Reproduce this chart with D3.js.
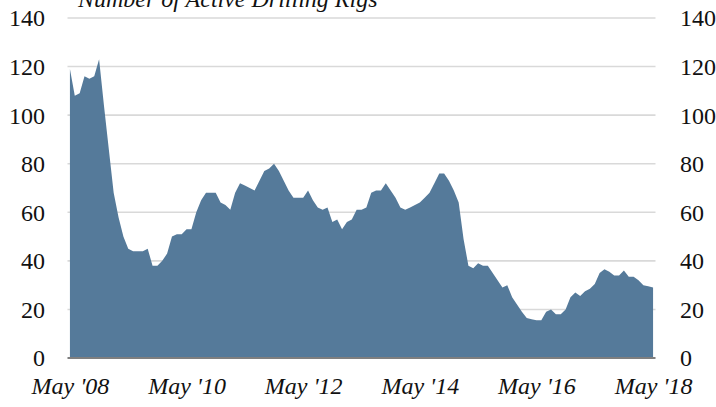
<!DOCTYPE html>
<html>
<head>
<meta charset="utf-8">
<script src="https://cdn.jsdelivr.net/npm/d3@7/dist/d3.min.js"></script>
<style>
  html, body { margin: 0; padding: 0; background: #fff; }
  svg { display: block; }
  .serif-text { font-family: "Liberation Serif", "DejaVu Serif", serif; }
</style>
</head>
<body>
<svg id="chart" width="716" height="407"></svg>
<script>
// Active drilling rigs, monthly, May 2008 – May 2018
const rigCounts = [
  119, 108, 109, 116, 115, 116, 123, 104, 86, 68,
  58, 50, 45, 44, 44, 44, 45, 38, 38, 40,
  43, 50, 51, 51, 53, 53, 60, 65, 68, 68,
  68, 64, 63, 61, 68, 72, 71, 70, 69, 73,
  77, 78, 80, 77, 73, 69, 66, 66, 66, 69,
  65, 62, 61, 62, 56, 57, 53, 56, 57, 61,
  61, 62, 68, 69, 69, 72, 69, 66, 62, 61,
  62, 63, 64, 66, 68, 72, 76, 76, 73, 69,
  64, 49, 38, 37, 39, 38, 38, 35, 32, 29,
  30, 25, 22, 19, 16.5, 16, 15.5, 15.5, 19, 20,
  18, 18, 20, 25, 27, 25.5, 27.5, 28.5, 30.5, 35,
  36.5, 35.5, 34, 34, 36, 33.5, 33.5, 32, 30, 29.5,
  29
];
const monthIndex = d3.range(rigCounts.length);
const xTickIndex = [0, 24, 48, 72, 96, 120];
const xTickLabels = ["May '08", "May '10", "May '12", "May '14", "May '16", "May '18"];
const yTicks = [0, 20, 40, 60, 80, 100, 120, 140];
const chartTitle = "Number of Active Drilling Rigs";

const svg = d3.select("#chart");
const plot = { left: 67.5, right: 655.5, top: 18, bottom: 358 };

const x = d3.scalePoint()
  .domain(monthIndex)
  .range([plot.left, plot.right])
  .padding(0.5);

const y = d3.scaleLinear()
  .domain([0, 140])
  .range([plot.bottom, plot.top]);

// horizontal gridlines
svg.append("g")
  .selectAll("line")
  .data(yTicks.filter(t => t > 0))
  .join("line")
  .attr("x1", plot.left)
  .attr("x2", plot.right)
  .attr("y1", d => y(d))
  .attr("y2", d => y(d))
  .attr("stroke", "#d9d9d9")
  .attr("stroke-width", 1.6);

// filled area
const area = d3.area()
  .x((d, i) => x(i))
  .y0(y(0))
  .y1(d => y(d));

svg.append("path")
  .datum(rigCounts)
  .attr("d", area)
  .attr("fill", "#557a9a");

// baseline
svg.append("line")
  .attr("x1", plot.left)
  .attr("x2", plot.right)
  .attr("y1", y(0))
  .attr("y2", y(0))
  .attr("stroke", "#7f7f7f")
  .attr("stroke-width", 2);

// left and right value axes
const yAxisLeft = d3.axisLeft(y).tickValues(yTicks).tickSize(0).tickPadding(0);
const yAxisRight = d3.axisRight(y).tickValues(yTicks).tickSize(0).tickPadding(0);

const gl = svg.append("g").attr("transform", "translate(45,0)").call(yAxisLeft);
const gr = svg.append("g").attr("transform", "translate(680,0)").call(yAxisRight);
[gl, gr].forEach(g => {
  g.attr("font-family", null).attr("font-size", null).classed("serif-text", true);
  g.select(".domain").remove();
  g.selectAll("text")
    .attr("font-size", 24)
    .attr("fill", "#111")
    .attr("dy", "0.33em");
});

// month axis
const xAxis = d3.axisBottom(x)
  .tickValues(xTickIndex)
  .tickFormat((d, i) => xTickLabels[i])
  .tickSize(0)
  .tickPadding(0);

const gx = svg.append("g").attr("transform", "translate(0,394)").call(xAxis);
gx.attr("font-family", null).attr("font-size", null).classed("serif-text", true);
gx.select(".domain").remove();
gx.selectAll("text")
  .attr("font-style", "italic")
  .attr("font-size", 24)
  .attr("fill", "#111")
  .attr("dy", 0)
  .attr("y", 0);

// title
svg.append("text")
  .attr("class", "serif-text")
  .attr("x", 78)
  .attr("y", 7)
  .attr("font-style", "italic")
  .attr("font-size", 24)
  .attr("fill", "#111")
  .text(chartTitle);
</script>
</body>
</html>
